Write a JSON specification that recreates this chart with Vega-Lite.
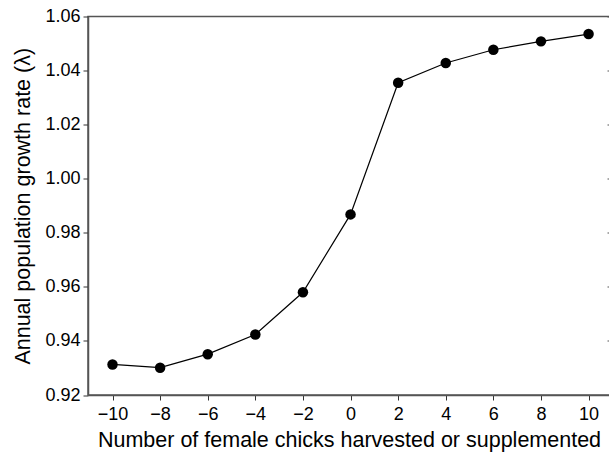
{
  "$schema": "https://vega.github.io/schema/vega-lite/v6.json",
  "autosize": "none",
  "padding": {"left": 88, "top": 16.5, "right": 0, "bottom": 61},
  "width": 522,
  "height": 378.5,
  "background": "white",
  "config": {
    "font": "Liberation Sans",
    "view": {"stroke": "#555", "strokeWidth": 1.5},
    "axis": {"grid": false, "domainColor": "#555", "domainWidth": 1.5, "tickColor": "#333", "tickSize": 5, "labelColor": "black", "titleColor": "black", "labelFont": "Liberation Sans", "titleFont": "Liberation Sans", "labelFontSize": 18, "titleFontSize": 21.5, "titleFontWeight": "normal"}
  },
  "data": {"values": [
    {"n": -10, "lambda": 0.9313},
    {"n": -8, "lambda": 0.9301},
    {"n": -6, "lambda": 0.9351},
    {"n": -4, "lambda": 0.9424},
    {"n": -2, "lambda": 0.9580},
    {"n": 0, "lambda": 0.9868},
    {"n": 2, "lambda": 1.0355},
    {"n": 4, "lambda": 1.0428},
    {"n": 6, "lambda": 1.0477},
    {"n": 8, "lambda": 1.0508},
    {"n": 10, "lambda": 1.0535}
  ]},
  "encoding": {
    "x": {"field": "n", "type": "quantitative", "scale": {"domain": [-11.03, 10.9], "nice": false, "zero": false},
      "axis": {"values": [-10, -8, -6, -4, -2, 0, 2, 4, 6, 8, 10], "title": "Number of female chicks harvested or supplemented", "labelPadding": 5, "titlePadding": 6}},
    "y": {"field": "lambda", "type": "quantitative", "scale": {"domain": [0.92, 1.06], "nice": false, "zero": false},
      "axis": {"values": [0.92, 0.94, 0.96, 0.98, 1.0, 1.02, 1.04, 1.06], "format": ".2f", "title": "Annual population growth rate (λ)", "labelPadding": 3, "titlePadding": 10}}
  },
  "layer": [
    {"mark": {"type": "line", "color": "black", "strokeWidth": 1.2}},
    {"mark": {"type": "point", "filled": true, "color": "black", "opacity": 1, "size": 110}},
    {"mark": {"type": "rule", "opacity": 0}, "encoding": {"y": {"field": "lambda", "type": "quantitative", "axis": {"orient": "right", "values": [0.94, 0.96, 0.98, 1.0, 1.02, 1.04, 1.06], "labels": false, "title": null, "domain": false, "tickSize": -3, "tickColor": "#555"}}}}
  ],
  "resolve": {"axis": {"y": "independent"}}
}
